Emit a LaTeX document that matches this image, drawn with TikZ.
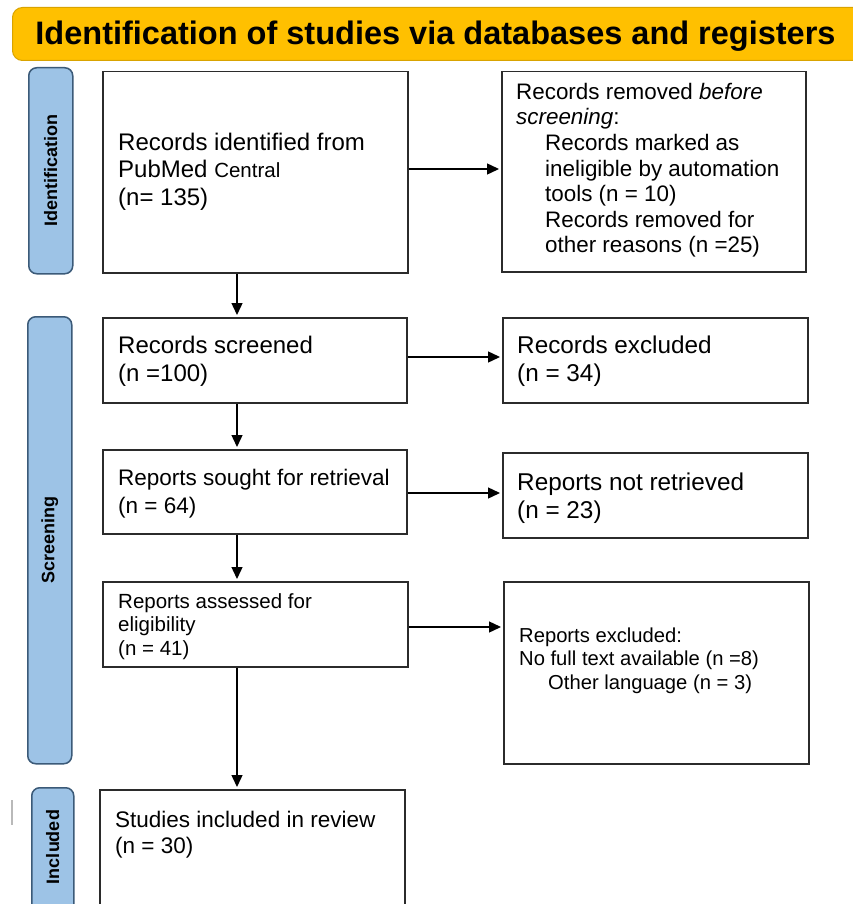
\documentclass[tikz,border=0pt]{standalone}
\usepackage{fontspec}
\setmainfont{Liberation Sans}
\usetikzlibrary{arrows.meta,calc}
\definecolor{hdrfill}{HTML}{FFC000}
\definecolor{hdrline}{HTML}{D9A300}
\definecolor{barfill}{HTML}{9DC3E6}
\definecolor{barline}{HTML}{3B5A78}
\definecolor{boxline}{HTML}{2B2B2B}
\tikzset{
  flowbox/.style={draw=boxline, line width=1.5pt, fill=white, inner sep=0pt, anchor=north west},
  phasebar/.style={draw=barline, line width=1.5pt, fill=barfill, rounded corners=8pt, inner sep=0pt, anchor=north west},
  phaselabel/.style={rotate=90, font=\bfseries\fontsize{18}{18}\selectfont, inner sep=0pt},
  boxtext/.style={anchor=north west, inner sep=0pt, align=left},
  arr/.style={draw=black, line width=1.4pt, -{Triangle[length=12pt,width=11pt]}, shorten >=2pt},
}
\begin{document}
\begin{tikzpicture}[x=1pt,y=-1pt]
\clip (0,0) rectangle (853,904);
\fill[white] (0,0) rectangle (853,904);

% header
\node[draw=hdrline, line width=1pt, fill=hdrfill, rounded corners=10pt, anchor=north west,
      minimum width=880pt, minimum height=53pt, inner sep=0pt] (hdr) at (12,7) {};
\node[anchor=base, inner sep=0pt, font=\bfseries\fontsize{32.5}{32.5}\selectfont] (title) at (435.5,45)
  {Identification of studies via databases and registers};

% phase bars
\node[phasebar, minimum width=44pt, minimum height=206pt] (pb1) at (28,67) {};
\node[phaselabel] (pl1) at (pb1.center) {Identification};
\node[phasebar, minimum width=44pt, minimum height=447pt] (pb2) at (27,316) {};
\node[phaselabel] (pl2) at (pb2.center) {Screening};
\node[phasebar, minimum width=42pt, minimum height=140pt] (pb3) at (31,787) {};
\node[phaselabel] (pl3) at ($(pb3.north)+(0,60)$) {Included};

% stray mark
\draw[gray!55, line width=1.8pt] (12,800) -- (12,825);

% left boxes
\node[flowbox, minimum width=305pt, minimum height=201pt] (b1) at (102,71) {};
\node[flowbox, minimum width=304pt, minimum height=85pt] (b2) at (102,317) {};
\node[flowbox, minimum width=304pt, minimum height=84pt] (b3) at (102,449) {};
\node[flowbox, minimum width=305pt, minimum height=85pt] (b4) at (102,581) {};
\node[flowbox, minimum width=305pt, minimum height=140pt] (b5) at (99,789) {};

% right boxes
\node[flowbox, minimum width=304pt, minimum height=200pt] (r1) at (501,71) {};
\node[flowbox, minimum width=305pt, minimum height=85pt] (r2) at (502,317) {};
\node[flowbox, minimum width=305pt, minimum height=85pt] (r3) at (502,452) {};
\node[flowbox, minimum width=305pt, minimum height=182pt] (r4) at (503,581) {};

% texts
\node[boxtext, font=\fontsize{24}{27.5}\selectfont] (t1) at (118,130)
  {\rule{0pt}{20pt}Records identified from\\PubMed {\fontsize{20.5}{27.5}\selectfont Central}\\(n= 135)};
\node[boxtext, font=\fontsize{24}{28}\selectfont] (t2) at (118,333)
  {\rule{0pt}{20pt}Records screened\\(n =100)};
\node[boxtext, font=\fontsize{22.5}{28}\selectfont] (t3) at (118,465)
  {\rule{0pt}{20pt}Reports sought for retrieval\\(n = 64)};
\node[boxtext, font=\fontsize{20.5}{23.5}\selectfont] (t4) at (118,588)
  {\rule{0pt}{20pt}Reports assessed for\\eligibility\\(n = 41)};
\node[boxtext, font=\fontsize{22.5}{26.5}\selectfont] (t5) at (115,807)
  {\rule{0pt}{20pt}Studies included in review\\(n = 30)};

\node[boxtext, font=\fontsize{22.4}{25.6}\selectfont] (s1) at (516,79)
  {\rule{0pt}{20pt}Records removed \textit{before}\\\textit{screening}:\\
   \hspace*{29pt}Records marked as\\
   \hspace*{29pt}ineligible by automation\\
   \hspace*{29pt}tools (n = 10)\\
   \hspace*{29pt}Records removed for\\
   \hspace*{29pt}other reasons (n =25)};
\node[boxtext, font=\fontsize{24.3}{28}\selectfont] (s2) at (517,333)
  {\rule{0pt}{20pt}Records excluded\\(n = 34)};
\node[boxtext, font=\fontsize{24.3}{28}\selectfont] (s3) at (517,470)
  {\rule{0pt}{20pt}Reports not retrieved\\(n = 23)};
\node[boxtext, font=\fontsize{20.2}{23.5}\selectfont] (s4) at (519,622)
  {\rule{0pt}{20pt}Reports excluded:\\No full text available (n =8)\\
   \hspace*{29pt}Other language (n = 3)};

% connector guides
\coordinate (vx) at (237,0);
\coordinate (h1) at (0,169);
\coordinate (h2) at (0,357);
\coordinate (h3) at (0,493);
\coordinate (h4) at (0,627);

% vertical arrows
\draw[arr] (b1.south -| vx) -- (b2.north -| vx);
\draw[arr] (b2.south -| vx) -- (b3.north -| vx);
\draw[arr] (b3.south -| vx) -- (b4.north -| vx);
\draw[arr] (b4.south -| vx) -- (b5.north -| vx);

% horizontal arrows
\draw[arr] (b1.east |- h1) -- (r1.west |- h1);
\draw[arr] (b2.east |- h2) -- (r2.west |- h2);
\draw[arr] (b3.east |- h3) -- (r3.west |- h3);
\draw[arr] (b4.east |- h4) -- (r4.west |- h4);
\end{tikzpicture}
\end{document}
